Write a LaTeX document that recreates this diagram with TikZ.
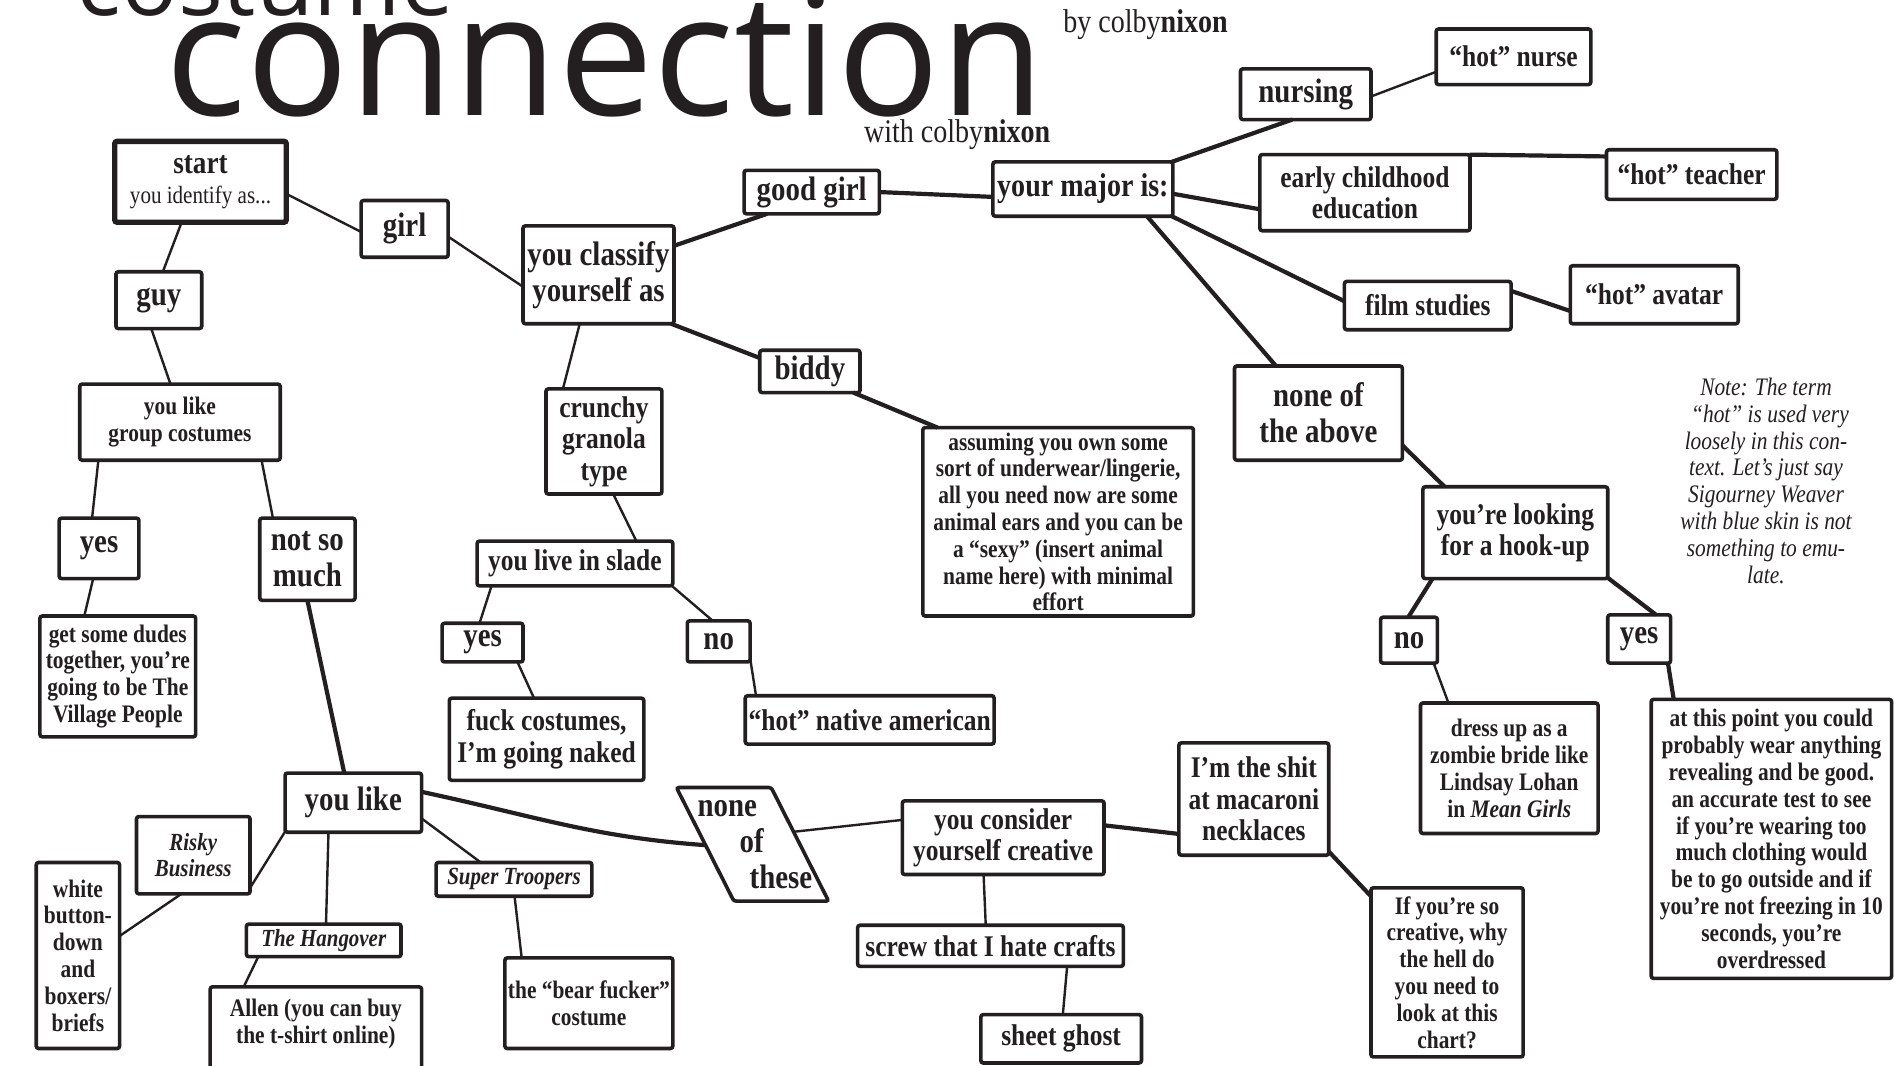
\documentclass[tikz,border=0pt]{standalone}
\usepackage{fontspec}
\setmainfont{Liberation Serif}[FakeStretch=0.85]
\newfontfamily\titlefont{Open Sans}
\usetikzlibrary{shapes.geometric}
\definecolor{ink}{HTML}{231F20}
\tikzset{
  box/.style={draw=ink, text=ink, line width=1.8pt, rounded corners=1.2pt, inner sep=0pt, outer sep=0pt, align=center},
  bx/.style n args={4}{at={({(#1+#3)/2},{(#2+#4)/2})}, minimum width={(#3-#1)*0.604pt}, minimum height={(#4-#2)*0.604pt}},
  fbig/.style={font=\bfseries\fontsize{17}{18}\selectfont},
  fmid/.style={font=\bfseries\fontsize{15}{15.7}\selectfont},
  fsml/.style={font=\bfseries\fontsize{12.6}{13.4}\selectfont},
  fita/.style={font=\bfseries\itshape\fontsize{12.3}{13.4}\selectfont},
  fnote/.style={font=\itshape\fontsize{12.6}{13.4}\selectfont},
  lnA/.style={draw=ink, line width=1.2pt},
  lnB/.style={draw=ink, line width=2.1pt},
}
\begin{document}
\begin{tikzpicture}[x=0.604pt, y=-0.604pt]
\path[use as bounding box] (0,0) rectangle (1568,882);
\clip (0,0) rectangle (1568,882);
\fill[white] (0,0) rectangle (1568,882);

% title
\node[anchor=base west, inner sep=0, text=ink, font=\titlefont\fontsize{47}{47}\selectfont] (costume) at (63,13) {costume};
\node[anchor=base west, inner sep=0, text=ink, font=\titlefont\fontsize{85}{85}\selectfont] (connection) at (137,96) {connection};
\node[anchor=base west, inner sep=0, text=ink, font=\fontsize{16.5}{17}\selectfont] (by) at (880,27) {by colby\textbf{nixon}};
\node[anchor=base west, inner sep=0, text=ink, font=\fontsize{16.5}{17}\selectfont] (with) at (715,118) {with colby\textbf{nixon}};

% left branch
\node[box, line width=2.7pt, bx={95}{117}{237}{184}] (start) {{\bfseries\fontsize{16}{17}\selectfont start}\\[3pt]{\fontsize{12.4}{14}\selectfont you identify as...}};
\node[box, fbig, bx={299}{166}{371}{213}] (girl) {girl};
\node[box, fbig, bx={96}{225}{167}{272}] (guy) {guy};
\node[box, fsml, bx={66}{318}{232}{381}] (group) {you like\\group costumes};
\node[box, fbig, bx={49}{429}{115}{479}] (yesL) {yes};
\node[box, fbig, bx={215}{429}{294}{497}] (notso) {not so\\much};
\node[box, fsml, bx={33}{510}{162}{610}] (dudes) {get some dudes\\together, you’re\\going to be The\\Village People};

% girl branch
\node[box, fbig, bx={433}{187}{558}{268}] (classify) {you classify\\yourself as};
\node[box, fbig, bx={616}{141}{728}{177}] (goodgirl) {good girl};
\node[box, font=\bfseries\fontsize{16.5}{18}\selectfont, bx={822}{134}{971}{179}] (major) {your major is:};
\node[box, fbig, bx={1027}{57}{1135}{99}] (nursing) {nursing};
\node[box, fmid, bx={1189}{24}{1317}{70}] (nurse) {“hot” nurse};
\node[box, fmid, bx={1043}{128}{1217}{191}] (early) {early childhood\\education};
\node[box, fmid, bx={1330}{124}{1471}{165}] (teacher) {“hot” teacher};
\node[box, fmid, bx={1113}{233}{1251}{273}] (film) {film studies};
\node[box, fmid, bx={1300}{220}{1439}{268}] (avatar) {“hot” avatar};
\node[box, fbig, bx={1022}{303}{1161}{381}] (noneabove) {none of\\the above};
\node[box, fmid, bx={1178}{403}{1331}{479}] (hookup) {you’re looking\\for a hook-up};
\node[box, fbig, bx={1143}{511}{1190}{549}] (noR) {no};
\node[box, fbig, bx={1331}{509}{1383}{549}] (yesR) {yes};
\node[box, fsml, bx={1176}{582}{1323}{690}] (zombie) {dress up as a\\zombie bride like\\Lindsay Lohan\\in \textit{Mean Girls}};
\node[box, fsml, bx={1367}{579}{1566}{810}] (point) {at this point you could\\probably wear anything\\revealing and be good.\\an accurate test to see\\if you’re wearing too\\much clothing would\\be to go outside and if\\you’re not freezing in 10\\seconds, you’re\\overdressed};
\node[fnote, text=ink, align=center, inner sep=0pt] (note) at (1462,398) {Note: The term\\\hspace*{4pt}“hot” is used very\\loosely in this con-\\text. Let’s just say\\Sigourney Weaver\\with blue skin is not\\something to emu-\\late.};

\node[box, fmid, bx={452}{322}{548}{409}] (crunchy) {crunchy\\granola\\type};
\node[box, fbig, bx={629}{290}{712}{325}] (biddy) {biddy};
\node[box, fsml, bx={764}{354}{988}{510}] (assuming) {assuming you own some\\sort of underwear/lingerie,\\all you need now are some\\animal ears and you can be\\a “sexy” (insert animal\\name here) with minimal\\effort};
\node[box, fmid, bx={395}{448}{557}{485}] (slade) {you live in slade};
\node[box, fbig, bx={366}{516}{433}{548}] (yesM) {yes};
\node[box, fbig, bx={569}{514}{621}{548}] (noM) {no};
\node[box, fmid, bx={372}{578}{533}{646}] (naked) {fuck costumes,\\I’m going naked};
\node[box, fmid, bx={617}{576}{823}{616}] (native) {“hot” native american};

% guy lower branch
\node[box, fbig, bx={236}{640}{349}{689}] (youlike) {you like};
\node[box, fita, bx={113}{676}{207}{740}] (risky) {Risky\\Business};
\node[box, fsml, bx={30}{714}{99}{868}] (white) {white\\button-\\down\\and\\boxers/\\briefs};
\node[box, fita, bx={204}{765}{332}{792}] (hangover) {The Hangover};
\node[box, fsml, bx={174}{817}{349}{886}] (allen) {Allen (you can buy\\the t-shirt online)\\[-6pt]};
\node[box, fita, bx={361}{714}{490}{742}] (troopers) {Super Troopers};
\node[box, fsml, bx={418}{793}{557}{868}] (bear) {the “bear fucker”\\costume};
\node[draw=ink, line width=1.8pt, trapezium, trapezium left angle=111, trapezium right angle=69, trapezium stretches=true, minimum width=76.1pt, minimum height=56.8pt, inner sep=2pt, outer sep=0pt, rounded corners=1.2pt] (nonethese) at (623,699) {\strut};
\node[fbig, text=ink, align=left, inner sep=0pt] (nonetheseT) at (625,699) {none\\\hspace*{21pt}of\\\hspace*{26pt}these};
\node[box, fmid, bx={747}{663}{914}{724}] (creative) {you consider\\yourself creative};
\node[box, fmid, bx={710}{766}{930}{800}] (crafts) {screw that I hate crafts};
\node[box, fmid, bx={812}{840}{945}{880}] (ghost) {sheet ghost};
\node[box, fmid, bx={976}{615}{1100}{708}] (macaroni) {I’m the shit\\at macaroni\\necklaces};
\node[box, fsml, bx={1135}{735}{1261}{875}] (ifyou) {If you’re so\\creative, why\\the hell do\\you need to\\look at this\\chart?};

% connectors
\draw[lnA] (start.-8) -- (girl.184);
\draw[lnA] (start.245) -- (guy.82);
\draw[lnA] (guy.255) -- (group.104);
\draw[lnA] (group.205) -- (yesL.103);
\draw[lnA] (group.-25) -- (notso.130);
\draw[lnA] (yesL.-101) -- (dudes.119);
\draw[lnB] (notso.-90) -- (youlike.107);
\draw[lnA] (girl.-10) -- (classify.189);
\draw[lnB] (classify.21) -- (goodgirl.206);
\draw[lnB] (classify.-34) -- (biddy.165);
\draw[lnA] (classify.-111) -- (crunchy.128);
\draw[lnA] (crunchy.-80) -- (slade.20);
\draw[lnB] (goodgirl.0) -- (major.185);
\draw[lnB] (major.17) -- (nursing.242);
\draw[lnA] (nursing.-2) -- (nurse.191);
\draw[lnB] (major.-3) -- (early.189);
\draw[lnB] (early.20) -- (teacher.168);
\draw[lnB] (major.-17) -- (film.177);
\draw[lnB] (film.10) -- (avatar.191);
\draw[lnB] (major.-23) -- (noneabove.132);
\draw[lnB] (noneabove.-21) -- (hookup.147);
\draw[lnB] (hookup.209) -- (noR.92);
\draw[lnB] (hookup.-26) -- (yesR.55);
\draw[lnA] (noR.-43) -- (zombie.133);
\draw[lnB] (yesR.-40) -- (point.125);
\draw[lnB] (biddy.-26) -- (assuming.142);
\draw[lnA] (slade.195) -- (yesM.99);
\draw[lnA] (slade.-13) -- (noM.106);
\draw[lnA] (yesM.-29) -- (naked.107);
\draw[lnA] (noM.-28) -- (native.168);
\draw[lnA] (youlike.203) -- (risky.-30);
\draw[lnA] (risky.253) -- (white.25);
\draw[lnA] (youlike.230) -- (hangover.82);
\draw[lnA] (hangover.194) -- (allen.150);
\draw[lnA] (youlike.-13) -- (troopers.153);
\draw[lnA] (troopers.-88) -- (bear.146);
\draw[lnB] (youlike.9) to[out=-12,in=176] (nonethese.181);
\draw[lnA] (nonethese.17) -- (creative.170);
\draw[lnB] (creative.7) -- (macaroni.205);
\draw[lnA] (creative.242) -- (crafts.103);
\draw[lnA] (crafts.-15) -- (ghost.86);
\draw[lnB] (macaroni.-35) -- (ifyou.135);
\end{tikzpicture}
\end{document}
